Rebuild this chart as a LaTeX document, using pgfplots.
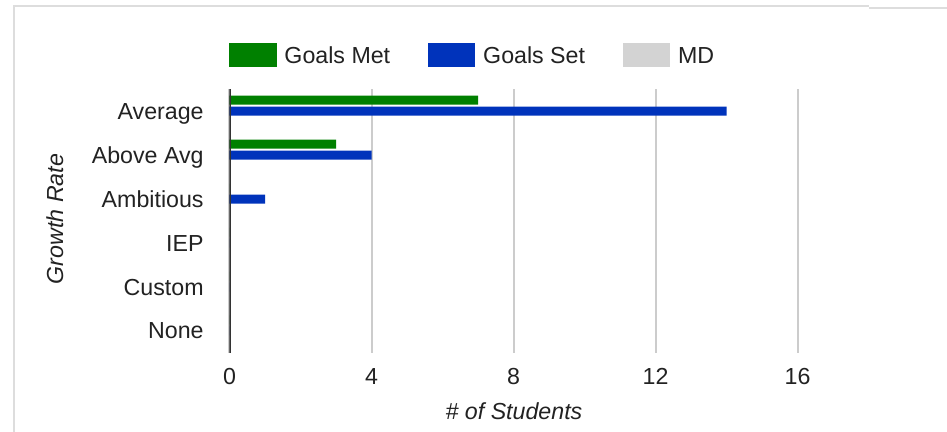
\documentclass[border=0pt]{standalone}
\usepackage{pgfplots}
\pgfplotsset{compat=1.18}
\usepackage{fontspec}
\setmainfont{Liberation Sans}
\definecolor{metgreen}{RGB}{0,128,0}
\definecolor{setblue}{RGB}{0,51,187}
\definecolor{mdgray}{RGB}{211,211,211}
\definecolor{txt}{RGB}{34,34,34}
\definecolor{gridc}{RGB}{204,204,204}
\definecolor{axisc}{RGB}{51,51,51}
\definecolor{framec}{RGB}{221,221,221}

\begin{document}
\fontsize{11.6}{14}\selectfont
\begin{tikzpicture}
\useasboundingbox (0,0) rectangle (473.5pt,216pt);
% outer frame (cropped)
\draw[framec, line width=1pt] (7pt,0) -- (7pt,212.75pt) -- (434.5pt,212.75pt);
\draw[framec, line width=1pt] (434.5pt,212pt) -- (473.5pt,212pt);
\begin{axis}[
  at={(114.75pt,39.5pt)}, anchor=south west,
  scale only axis, width=355pt, height=132pt,
  xmin=0, xmax=20, ymin=-0.5, ymax=5.5, y dir=reverse,
  xbar, bar width=4.5pt,
  axis line style={draw=none},
  major tick length=0pt,
  xtick={0,4,8,12,16},
  ytick={0,...,5},
  yticklabels={Average,Above Avg,Ambitious,IEP,Custom,None},
  /pgf/number format/assume math mode=true,
  xmajorgrids, grid style={gridc, line width=1pt},
  xticklabel style={anchor=base, yshift=-16pt, inner sep=0pt, text=txt},
  yticklabel style={anchor=base east, inner sep=0pt, xshift=-12.75pt, yshift=-4pt, text=txt},
  xlabel={\itshape \# of Students},
  xlabel style={at={(rel axis cs:0.4007,0)}, anchor=base, yshift=-33.5pt, inner sep=0pt, text=txt},
  ylabel={\itshape Growth Rate},
  ylabel style={at={(rel axis cs:-0.2345,0.5076)}, anchor=base, inner sep=0pt, text=txt},
  legend columns=3,
  legend style={at={(0,1.1288)}, anchor=west, draw=none, inner sep=0pt, outer sep=0pt,
    nodes={inner sep=0pt, text=txt},
    /tikz/every odd column/.append style={column sep=4pt},
    /tikz/every even column/.append style={column sep=19pt}},
  legend image code/.code={\fill[#1] (0pt,-4.8pt) rectangle (23.5pt,7.2pt);},
]
\addplot[fill=metgreen, draw=none, bar shift=5.5pt] coordinates {(7,0) (3,1) (0,2) (0,3) (0,4) (0,5)};
\addlegendentry{Goals Met}
\addplot[fill=setblue, draw=none, bar shift=0pt] coordinates {(14,0) (4,1) (1,2) (0,3) (0,4) (0,5)};
\addlegendentry{Goals Set}
\addplot[fill=mdgray, draw=none, bar shift=-5.5pt] coordinates {(0,0) (0,1) (0,2) (0,3) (0,4) (0,5)};
\addlegendentry{MD}
\draw[axisc, line width=1.5pt] (axis cs:0,-0.5) -- (axis cs:0,5.5);
\end{axis}
\end{tikzpicture}
\end{document}
